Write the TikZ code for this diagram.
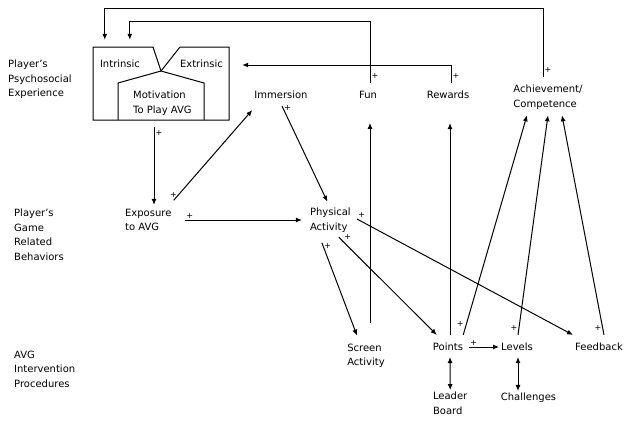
\documentclass[tikz,border=0pt]{standalone}
\usepackage{fontspec}
\setmainfont{DejaVu Sans}
\usetikzlibrary{arrows.meta}

\begin{document}
\begin{tikzpicture}[x=1pt,y=-1pt,
    txt/.style={font=\fontsize{10}{14.5}\selectfont, inner sep=2pt, align=left},
    side/.style={txt, inner sep=0pt, anchor=west},
    pl/.style={font=\fontsize{8}{8}\selectfont, inner sep=1pt},
    arr/.style={line width=1pt, -{Latex[length=6pt,width=5pt]}},
    twoway/.style={line width=1pt, {Latex[length=6pt,width=5pt]}-{Latex[length=6pt,width=5pt]}}]
\useasboundingbox (0,0) rectangle (630,424);
% row labels
\node[side] (rowpsy) at (8,79.5) {Player’s\\Psychosocial\\Experience};
\node[side] (rowbeh) at (14,235) {Player’s\\Game\\Related\\Behaviors};
\node[side] (rowavg) at (14,369) {AVG\\Intervention\\Procedures};
% motivation box
\node[minimum width=136pt, minimum height=73pt, inner sep=0pt] (mot) at (161,83.5) {};
\draw[line width=1pt] (93,47) -- (153,47) -- (161,71) -- (180,47) -- (229,47) -- (229,120) -- (93,120) -- cycle;
\draw[line width=1pt] (118,120) -- (118,83) -- (161,71) -- (204,83) -- (204,120);
\node[txt] (intr) at (120,64) {Intrinsic};
\node[txt] (extr) at (201.5,64) {Extrinsic};
\node[txt] (motiv) at (162.4,103) {Motivation\\To Play AVG};
% concepts
\foreach \n/\x/\y/\t in {imm/281/95/Immersion, fun/368/95/Fun, rew/448/95/Rewards,
    pts/448/347/Points, lev/517/347/Levels, fb/599/347/Feedback, chal/528.5/398/Challenges}
    \node[txt] (\n) at (\x,\y) {\t};
\node[txt] (ach) at (548,97) {Achievement/\\Competence};
\node[txt] (exp) at (148.3,220) {Exposure\\to AVG};
\node[txt] (phys) at (330.4,220) {Physical\\Activity};
\node[txt] (scr) at (366,355.75) {Screen\\Activity};
\node[txt] (lead) at (450.2,403.4) {Leader\\Board};
% links
\draw[arr] ([xshift=-7pt,yshift=-7pt]mot.south) -- node[pl,pos=0.07,right] {+} ([xshift=5.7pt,yshift=2pt]exp.north);
\draw[arr] ([yshift=6.5pt]exp.north east) -- node[pl,pos=0.06,left] {+} ([yshift=-9pt]imm.south west);
\draw[arr] ([xshift=11.5pt]exp.east) -- node[pl,pos=0.04,above] {+} ([xshift=-6pt]phys.west);
\draw[arr] ([xshift=1pt,yshift=-5pt]imm.south) -- node[pl,pos=0.02,right] {+} ([xshift=-3pt,yshift=4pt]phys.north);
\draw[arr] ([xshift=-8.5pt,yshift=-8.5pt]phys.south) -- node[pl,pos=0.03,right] {+} ([xshift=-9pt,yshift=6pt]scr.north);
\draw[arr] ([xshift=8.5pt,yshift=-3pt]phys.south) -- node[pl,pos=0.04,above right] {+} ([xshift=6pt,yshift=6pt]pts.north west);
\draw[arr] ([xshift=4pt,yshift=1pt]phys.east) -- node[pl,pos=0,above right] {+} ([yshift=6pt]fb.north west);
\draw[arr] ([xshift=4pt,yshift=18.5pt]scr.north) -- ([xshift=2pt,yshift=-22pt]fun.south);
\draw[arr] ([xshift=2pt,yshift=6pt]pts.north) -- ([xshift=2pt,yshift=-22pt]rew.south);
\draw[arr] ([xshift=-2pt,yshift=6pt]pts.north east) -- node[pl,pos=0.03,above left] {+} ([xshift=-21pt,yshift=-4pt]ach.south);
\draw[arr] ([xshift=1pt,yshift=6pt]lev.north) -- node[pl,pos=0.03,left] {+} ([yshift=-4pt]ach.south);
\draw[arr] ([xshift=5pt,yshift=6pt]fb.north) -- node[pl,pos=0.03,left] {+} ([xshift=14pt,yshift=-4pt]ach.south);
\draw[arr] ([xshift=4pt]pts.east) -- node[pl,pos=0.15,above] {+} (lev.west);
\draw[twoway] ([xshift=2pt,yshift=-4pt]pts.south) -- (lead.north);
\draw[twoway] ([xshift=1pt,yshift=-4pt]lev.south) -- ([xshift=-10.5pt]chal.north);
% feedback to motivation
\draw[arr] ([xshift=-5pt,yshift=6pt]ach.north) -- ++(0,-67.75) node[pl,pos=0.1,right] {+} -| ([xshift=12pt,yshift=7pt]mot.north west);
\draw[arr] ([xshift=2pt,yshift=6pt]fun.north) -- ++(0,-61.2) node[pl,pos=0.12,right] {+} -| ([xshift=37pt,yshift=7pt]mot.north west);
\draw[arr] ([xshift=3pt,yshift=6pt]rew.north) |- node[pl,pos=0.2,right] {+} ([xshift=13pt,yshift=18.5pt]mot.east);
\end{tikzpicture}
\end{document}
